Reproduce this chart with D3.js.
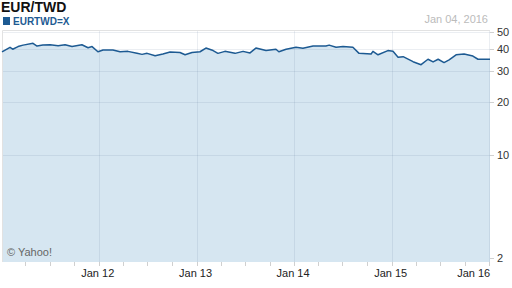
<!DOCTYPE html>
<html>
<head>
<meta charset="utf-8">
<script src="https://cdn.jsdelivr.net/npm/d3@7"></script>
<style>
  body { margin: 0; background: #fff; }
  svg { display: block; font-family: "Liberation Sans", Arial, sans-serif; }
</style>
</head>
<body>
<script>
// Data
const dates = [
  "2011-01-04", "2011-02-03", "2011-02-13", "2011-03-05", "2011-03-24", "2011-04-30",
  "2011-05-15", "2011-06-06", "2011-07-03", "2011-08-02", "2011-08-28", "2011-09-23",
  "2011-10-30", "2011-11-22", "2011-12-07", "2011-12-29", "2012-01-17", "2012-02-23",
  "2012-03-21", "2012-04-19", "2012-05-23", "2012-06-11", "2012-06-30", "2012-07-30",
  "2012-08-28", "2012-09-24", "2012-10-31", "2012-11-19", "2012-12-15", "2013-01-14",
  "2013-02-05", "2013-03-04", "2013-03-22", "2013-04-17", "2013-05-25", "2013-06-24",
  "2013-07-20", "2013-08-11", "2013-09-18", "2013-10-25", "2013-11-05", "2013-12-02",
  "2014-01-08", "2014-02-03", "2014-03-13", "2014-04-30", "2014-05-12", "2014-06-07",
  "2014-07-03", "2014-08-09", "2014-09-01", "2014-10-16", "2014-10-23", "2014-11-11",
  "2014-12-18", "2015-01-06", "2015-01-25", "2015-02-13", "2015-03-22", "2015-04-21",
  "2015-05-17", "2015-06-05", "2015-06-24", "2015-07-16", "2015-08-04", "2015-08-30",
  "2015-09-29", "2015-11-01", "2015-11-20", "2015-12-31", "2016-01-04"
];
const rates = [
  38.5, 40.9, 39.9, 41.3, 42.1, 43.1,
  41.6, 42.1, 42.3, 41.8, 42.3, 41.3,
  42.3, 40.7, 41.3, 38.6, 39.5, 39.5,
  38.6, 38.8, 37.8, 37.3, 37.8, 36.6,
  37.5, 38.5, 38.2, 37.1, 38.2, 38.6,
  40.5, 39.2, 37.8, 38.8, 37.8, 38.8,
  38.0, 40.5, 39.2, 39.9, 38.6, 39.9,
  40.9, 40.4, 41.6, 41.6, 42.1, 40.9,
  41.3, 40.9, 37.8, 37.5, 38.8, 37.1,
  39.2, 38.8, 35.9, 36.2, 33.9, 32.6,
  35.0, 33.8, 35.0, 33.5, 34.7, 37.1,
  37.5, 36.5, 35.0, 35.0, 35.0
];
const yTicks = [2.6, 10, 20, 30, 40, 50];
const xLabels = ["Jan 12", "Jan 13", "Jan 14", "Jan 15", "Jan 16"];
const title = "EUR/TWD";
const seriesName = "EURTWD=X";
const lastDate = "Jan 04, 2016";

const parse = d3.timeParse("%Y-%m-%d");
const data = dates.map((d, i) => ({ date: parse(d), value: rates[i] }));

const width = 512, height = 288;
const plot = { left: 2, right: 490, top: 30, bottom: 262 };

const svg = d3.select("body")
    .append("svg")
    .attr("width", width)
    .attr("height", height);

const x = d3.scaleTime()
    .domain([parse("2011-01-04"), parse("2016-01-04")])
    .range([plot.left, plot.right]);

const y = d3.scaleLog()
    .domain([2.47, 51.3])
    .range([plot.bottom, plot.top]);

// area + line
svg.append("path")
    .datum(data)
    .attr("fill", "#d6e6f1")
    .attr("d", d3.area()
        .x(d => x(d.date))
        .y0(plot.bottom)
        .y1(d => y(d.value)));

// grid
const years = d3.timeYear.range(parse("2012-01-01"), parse("2016-01-05"));
const quarters = d3.timeMonth.every(3).range(parse("2011-04-01"), parse("2016-01-05"))
    .filter(d => d.getMonth() !== 0);

svg.append("g")
    .selectAll("line")
    .data(yTicks.slice(1))
    .join("line")
    .attr("x1", plot.left).attr("x2", plot.right)
    .attr("y1", d => Math.round(y(d)) + 0.5).attr("y2", d => Math.round(y(d)) + 0.5)
    .attr("stroke", "rgba(60,90,130,0.1)");

svg.append("g")
    .selectAll("line")
    .data(years)
    .join("line")
    .attr("x1", d => Math.round(x(d)) + 0.5).attr("x2", d => Math.round(x(d)) + 0.5)
    .attr("y1", plot.top).attr("y2", plot.bottom)
    .attr("stroke", "rgba(60,90,130,0.1)");

// plot frame (top + left)
svg.append("path")
    .attr("d", `M${plot.left + 0.5},${plot.bottom}V${plot.top + 0.5}H${plot.right}`)
    .attr("fill", "none")
    .attr("stroke", "#e2e2e2");

svg.append("path")
    .datum(data)
    .attr("fill", "none")
    .attr("stroke", "#1d5a92")
    .attr("stroke-width", 1.5)
    .attr("stroke-linejoin", "round")
    .attr("d", d3.line()
        .x(d => x(d.date))
        .y(d => y(d.value)));

// x axis
svg.append("g")
    .selectAll("line")
    .data(years.concat(quarters))
    .join("line")
    .attr("x1", d => Math.round(x(d)) + 0.5).attr("x2", d => Math.round(x(d)) + 0.5)
    .attr("y1", plot.bottom).attr("y2", plot.bottom + 4)
    .attr("stroke", "#d0d0d0");

// last label is pulled inside so it ends at its tick
svg.append("g")
    .selectAll("text")
    .data(years)
    .join("text")
    .attr("x", (d, i) => i === years.length - 1 ? x(d) + 1 : x(d) - 1)
    .attr("y", 277)
    .attr("text-anchor", (d, i) => i === years.length - 1 ? "end" : "middle")
    .attr("font-size", 11)
    .attr("fill", "#222")
    .text((d, i) => xLabels[i]);

// y axis on the right
const yAxis = svg.append("g");
yAxis.selectAll("line")
    .data(yTicks)
    .join("line")
    .attr("x1", plot.right).attr("x2", plot.right + 4)
    .attr("y1", d => Math.round(y(d)) + 0.5).attr("y2", d => Math.round(y(d)) + 0.5)
    .attr("stroke", "#d0d0d0");
yAxis.selectAll("text")
    .data(yTicks)
    .join("text")
    .attr("x", plot.right + 7)
    .attr("y", d => y(d))
    .attr("dy", "0.35em")
    .attr("font-size", 11)
    .attr("fill", "#333")
    .text(d => Math.floor(d));

// titles
svg.append("text")
    .attr("x", 1).attr("y", 12)
    .attr("font-size", 14)
    .attr("font-weight", "bold")
    .attr("fill", "#111")
    .text(title);

svg.append("rect")
    .attr("x", 3).attr("y", 17)
    .attr("width", 7).attr("height", 8)
    .attr("fill", "#1d5a92");

svg.append("text")
    .attr("x", 13).attr("y", 24.5)
    .attr("font-size", 10)
    .attr("font-weight", "bold")
    .attr("fill", "#1d5a92")
    .text(seriesName);

svg.append("text")
    .attr("x", 488).attr("y", 23)
    .attr("text-anchor", "end")
    .attr("font-size", 11)
    .attr("fill", "#bbb")
    .text(lastDate);

svg.append("text")
    .attr("x", 7).attr("y", 256)
    .attr("font-size", 11)
    .attr("fill", "#666")
    .text("© Yahoo!");
</script>
</body>
</html>
